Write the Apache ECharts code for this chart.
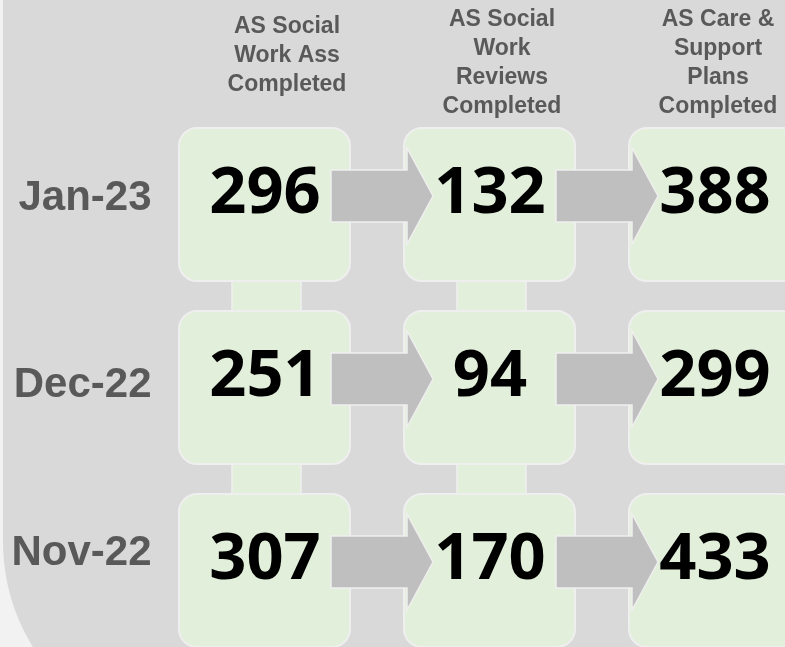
<!DOCTYPE html>
<html>
<head>
<meta charset="utf-8">
<script src="https://cdn.jsdelivr.net/npm/echarts@6/dist/echarts.min.js"></script>
<style>
  html, body { margin: 0; padding: 0; background: #f2f2f2; }
  #myChart { width: 785px; height: 647px; }
</style>
</head>
<body>
<div id="myChart"></div>
<script>
// 月份 / 环节
const months = ['Jan-23', 'Dec-22', 'Nov-22']
const stages = [
  'AS Social\nWork Ass\nCompleted',
  'AS Social\nWork\nReviews\nCompleted',
  'AS Care &\nSupport\nPlans\nCompleted'
]
const socialWorkAss = [296, 251, 307]
const socialWorkReviews = [132, 94, 170]
const carePlans = [388, 299, 433]

const stageValues = [socialWorkAss, socialWorkReviews, carePlans]

// [stage, month, value]
let boxData = []
stageValues.forEach((vals, s) => {
  vals.forEach((v, m) => {
    boxData.push([s, m, v])
  })
})
let arrowData = []
let linkData = []
for (let s = 0; s < 2; s++) {
  for (let m = 0; m < months.length; m++) {
    arrowData.push([s, m])
    if (m < months.length - 1) linkData.push([s, m])
  }
}

const green = '#e2efda'
const edge = '#efefef'
const textGrey = '#595959'
const headFont = { fontSize: 23, fontWeight: 'bold', fontFamily: 'Liberation Sans', color: textGrey, lineHeight: 29 }
const rowFont = { fontSize: 42, fontWeight: 'bold', fontFamily: 'Liberation Sans', color: textGrey }

// 表头每列的横向偏移
const headRich = { s: { fontSize: 10, lineHeight: 22 } }
const headShift = [44, 24, 6]
headShift.forEach((p, i) => {
  headRich['h' + i] = Object.assign({ padding: [0, 0, 0, p] }, headFont)
})
const rowRich = {}
const rowShift = [14, 6, 36]
rowShift.forEach((p, i) => {
  rowRich['r' + i] = Object.assign({ padding: [0, 0, p, 0] }, rowFont)
})

let myChart = echarts.init(document.getElementById('myChart'))
myChart.setOption({
  backgroundColor: '#f2f2f2',
  animation: false,
  graphic: [
    {
      type: 'rect',
      z: -5,
      silent: true,
      shape: { x: 3, y: -10, width: 800, height: 752, r: [0, 0, 0, 200] },
      style: { fill: '#d9d9d9' }
    }
  ],
  grid: {
    left: 152.5,
    top: 113.5,
    width: 675,
    height: 549,
    outerBoundsMode: 'none'
  },
  xAxis: {
    type: 'category',
    position: 'top',
    data: stages,
    axisLine: { show: false },
    axisTick: { show: false },
    splitLine: { show: false },
    axisLabel: {
      interval: 0,
      margin: -8,
      formatter: function (value, idx) {
        let lines = value.split('\n').map(l => '{h' + idx + '|' + l + '}')
        // 三行的表头往上抬一点
        if (lines.length < 4) lines.push('{s|\u00a0}')
        return lines.join('\n')
      },
      rich: headRich
    }
  },
  yAxis: {
    type: 'category',
    inverse: true,
    data: months,
    axisLine: { show: false },
    axisTick: { show: false },
    splitLine: { show: false },
    axisLabel: {
      interval: 0,
      margin: 1,
      formatter: function (value, idx) {
        return '{r' + idx + '|' + value + '}'
      },
      rich: rowRich
    }
  },
  series: [
    {
      // 竖向连接条
      type: 'custom',
      z: 1,
      silent: true,
      data: linkData,
      renderItem: function (params, api) {
        let p0 = api.coord([api.value(0), api.value(1)])
        let p1 = api.coord([api.value(0), api.value(1) + 1])
        return {
          type: 'rect',
          shape: { x: p0[0] - 33, y: p0[1], width: 69, height: p1[1] - p0[1] },
          style: { fill: green, stroke: edge, lineWidth: 1.5 }
        }
      }
    },
    {
      // 方框
      type: 'custom',
      z: 2,
      silent: true,
      data: boxData,
      renderItem: function (params, api) {
        let p = api.coord([api.value(0), api.value(1)])
        return {
          type: 'rect',
          shape: { x: p[0] - 86, y: p[1] - 77, width: 171, height: 153, r: 18 },
          style: { fill: green, stroke: edge, lineWidth: 2 }
        }
      }
    },
    {
      // 箭头
      type: 'custom',
      z: 3,
      silent: true,
      data: arrowData,
      renderItem: function (params, api) {
        let a = api.coord([api.value(0), api.value(1)])
        let b = api.coord([api.value(0) + 1, api.value(1)])
        let cy = a[1] - 9
        let x0 = a[0] + 66
        let tip = b[0] - 57
        let hb = tip - 26
        return {
          type: 'polygon',
          shape: {
            points: [
              [x0, cy - 26], [hb, cy - 26], [hb, cy - 48], [tip, cy],
              [hb, cy + 48], [hb, cy + 26], [x0, cy + 26]
            ]
          },
          style: { fill: '#bfbfbf', stroke: edge, lineWidth: 1.5 }
        }
      }
    },
    {
      // 数字
      type: 'custom',
      z: 4,
      silent: true,
      data: boxData,
      renderItem: function (params, api) {
        let p = api.coord([api.value(0), api.value(1)])
        return {
          type: 'text',
          style: {
            text: String(api.value(2)),
            x: p[0],
            y: p[1] - 11,
            align: 'center',
            verticalAlign: 'middle',
            font: 'bold 65px "Open Sans"',
            fill: '#000'
          }
        }
      }
    }
  ]
})
</script>
</body>
</html>
